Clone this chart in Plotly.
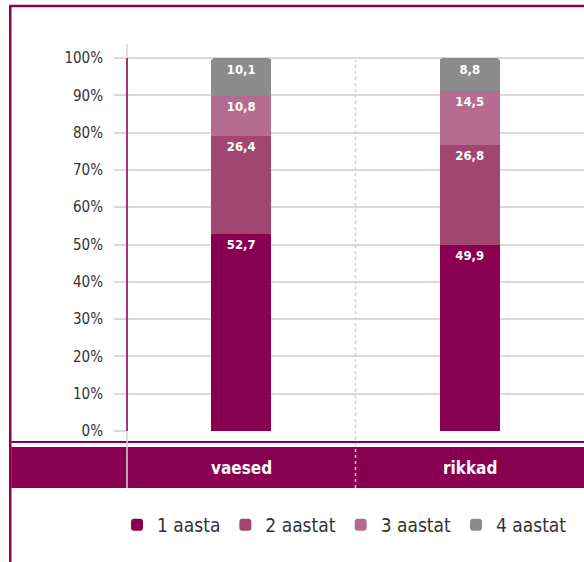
import plotly.graph_objects as go

categories = ["vaesed", "rikkad"]
series_names = ["1 aasta", "2 aastat", "3 aastat", "4 aastat"]
values_1 = [52.7, 49.9]
values_2 = [26.4, 26.8]
values_3 = [10.8, 14.5]
values_4 = [10.1, 8.8]
tick_vals = [0, 10, 20, 30, 40, 50, 60, 70, 80, 90, 100]
tick_text = ["0%", "10%", "20%", "30%", "40%", "50%", "60%", "70%", "80%", "90%", "100%"]

colors = ["#8a0050", "#a0466f", "#b46d8e", "#8c8c8c"]
FONT = "DejaVu Sans Condensed, Roboto, sans-serif"

W, H = 584, 562
L, T = 127, 44
B_PX = 431  # y pixel of 0%
R_PX = 585
PH = B_PX - T
PW = R_PX - L
YMAX = 100 * PH / (B_PX - 58)

def py(p):
    return (B_PX - p) / PH

def px(p):
    return (p - L) / PW

fig = go.Figure()
for name, vals, col in zip(series_names, [values_1, values_2, values_3, values_4], colors):
    fig.add_trace(go.Bar(
        x=categories, y=vals, name=name, marker=dict(color=col, line=dict(width=0)),
        texttemplate="%{y:.1f}", textposition="inside", insidetextanchor="end",
        textfont=dict(color="white", size=13, family=FONT, weight="bold"), constraintext="none",
        hoverinfo="skip", width=0.263,
    ))

shapes = []
shapes.append(dict(type="rect", xref="paper", yref="paper", x0=px(11), x1=px(W + 10), y0=py(488), y1=py(447),
                   fillcolor="#8a0050", line=dict(width=0), layer="above"))
shapes.append(dict(type="line", xref="paper", yref="paper", x0=px(11), x1=px(W + 10), y0=py(442), y1=py(442),
                   line=dict(color="#8a0050", width=2), layer="above"))
shapes.append(dict(type="line", xref="paper", yref="paper", x0=0, x1=0, y0=py(488), y1=1,
                   line=dict(color="#d4d4d4", width=1.5), layer="above"))
shapes.append(dict(type="line", xref="paper", yref="y", x0=0, x1=0, y0=0, y1=100,
                   line=dict(color="#8a0050", width=1.5), layer="above"))
shapes.append(dict(type="line", xref="paper", yref="paper", x0=0.5, x1=0.5, y0=py(488), y1=py(60),
                   line=dict(color="#d0d0d0", width=1.5, dash="dot"), layer="above"))
shapes.append(dict(type="line", xref="paper", yref="paper", x0=px(10), x1=px(10), y0=py(H + 20), y1=py(6),
                   line=dict(color="#8a0050", width=2.5), layer="above"))
shapes.append(dict(type="line", xref="paper", yref="paper", x0=px(9), x1=px(W + 10), y0=py(6), y1=py(6),
                   line=dict(color="#8a0050", width=2.5), layer="above"))

annotations = []
for c in categories:
    annotations.append(dict(x=c, xref="x", y=py(468), yref="paper", text=c, showarrow=False,
                            font=dict(color="white", size=17, family=FONT, weight="bold"),
                            xanchor="center", yanchor="middle"))

fig.update_layout(
    width=W, height=H,
    margin=dict(l=L, r=0, t=T, b=H - B_PX, pad=0),
    barmode="stack", barcornerradius=4,
    separators=", ",
    plot_bgcolor="white", paper_bgcolor="white",
    font=dict(family=FONT, color="#333333"),
    showlegend=True,
    legend=dict(orientation="h", x=px(345), xanchor="center", y=py(525), yanchor="middle",
                font=dict(size=19, color="#333333", family=FONT), traceorder="normal",
                itemwidth=30, bgcolor="rgba(0,0,0,0)"),
    shapes=shapes, annotations=annotations,
    hovermode=False,
)
fig.update_xaxes(showticklabels=False, showgrid=False, zeroline=False, showline=False, ticks="")
fig.update_yaxes(range=[0, YMAX], tickvals=tick_vals, ticktext=tick_text, showgrid=True,
                 gridcolor="#d9d9d9", gridwidth=1.5, zeroline=False, showline=False,
                 ticks="outside", ticklen=12, tickcolor="#d9d9d9", tickwidth=1.5,
                 ticklabelstandoff=8, tickfont=dict(size=15, color="#333333", family=FONT))

fig.write_html("out.html", config={"displayModeBar": False},
               post_script="document.body.style.margin='0';document.body.style.overflow='hidden';")
